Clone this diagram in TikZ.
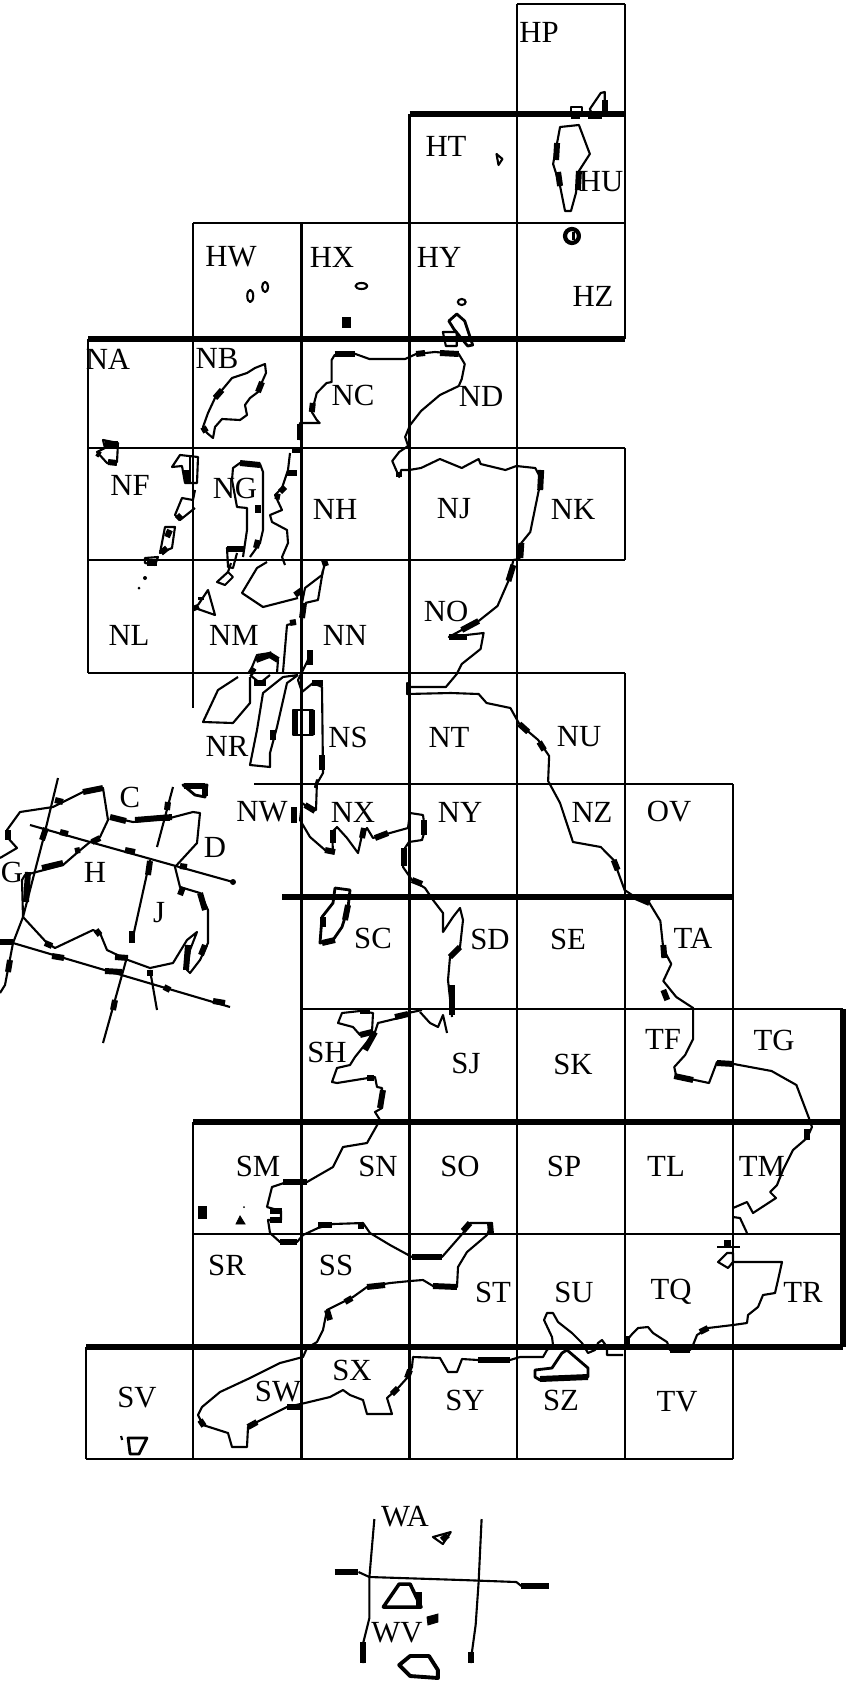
\documentclass[tikz,border=0pt]{standalone}
\usepackage{fontspec}
\setmainfont{Liberation Serif}
\usepackage{tikz}

\begin{document}
\begin{tikzpicture}[
    x=0.02cm, y=-0.02cm,
    gridline/.style={draw=black, line width=1.2pt},
    heavyline/.style={draw=black, line width=3pt},
    coast/.style={draw=black, line width=1.2pt, line join=round},
    blob/.style={draw=black, line width=3.4pt},
    solid island/.style={fill=black, draw=black, line width=0.5pt},
    sheet/.style={font=\fontsize{17.5}{17.5}\selectfont, inner sep=0pt, text=black}
]
    \useasboundingbox (0,0) rectangle (852,1686);

    % Grid verticals
    \draw[gridline] (517,4) -- (517,1459);
    \draw[gridline] (625,4) -- (625,339);
    \draw[gridline] (409.5,114) -- (409.5,1459);
    \draw[gridline] (193,223) -- (193,708);
    \draw[gridline] (301.5,223) -- (301.5,1459);
    \draw[gridline] (88,339) -- (88,673);
    \draw[gridline] (625,448) -- (625,560);
    \draw[gridline] (625,673) -- (625,1459);
    \draw[gridline] (733,784) -- (733,1459);
    \draw[gridline] (193,1122) -- (193,1459);
    \draw[gridline] (86,1347) -- (86,1459);

    % Grid horizontals
    \draw[gridline] (517,4) -- (625,4);
    \draw[gridline] (193,223) -- (625,223);
    \draw[gridline] (88,448) -- (625,448);
    \draw[gridline] (88,560) -- (625,560);
    \draw[gridline] (88,673) -- (625,673);
    \draw[gridline] (254,784) -- (733,784);
    \draw[gridline] (301.5,1009) -- (843,1009);
    \draw[gridline] (193,1234) -- (843,1234);
    \draw[gridline] (86,1459) -- (733,1459);

    % Heavy lines
    \draw[heavyline] (409.5,114) -- (625,114);
    \draw[heavyline] (88,339) -- (625,339);
    \draw[heavyline] (282,897) -- (733,897);
    \draw[heavyline] (193,1122) -- (843,1122);
    \draw[heavyline] (86,1347) -- (843,1347);
    \draw[heavyline] (843,1009) -- (843,1347);

    \begin{scope}[xscale=0.993]
    % East coast, north of Scotland down to Suffolk
    \draw[coast] (302,440) -- (302,423) -- (322,423) -- (319,420) -- (314,412) -- (319,393) -- (329,383) -- (334,382) -- (334,360) -- (337,355) -- (358,354) -- (372,359) -- (408,359) -- (419,354) -- (438,352) -- (462,354) -- (468,364) -- (465,379) -- (462,386) -- (443,395) -- (424,411) -- (413,425) -- (408,437) -- (411,446) -- (402,452) -- (395,461) -- (402,477) -- (404,470) -- (412,470) -- (424,468) -- (443,459) -- (465,468) -- (482,459) -- (484,464) -- (509,470) -- (520,466) -- (539,468) -- (545,479) -- (542,493) -- (534,532) -- (525,543) -- (523,559) -- (517,560) -- (512,581) -- (501,606) -- (482,621) -- (465,630) -- (452,637) -- (487,633) -- (484,649) -- (465,664) -- (460,674) -- (449,687) -- (413,687) -- (410,683) -- (410,694) -- (454,693) -- (482,694) -- (490,703) -- (514,708) -- (523,724) -- (542,740) -- (553,756) -- (552,781) -- (564,803) -- (577,842) -- (605,847) -- (618,860) -- (629,890) -- (638,896) -- (654,903) -- (665,921) -- (668,949) -- (676,964) -- (668,981) -- (681,997) -- (698,1008) -- (698,1039) -- (690,1055) -- (679,1067) -- (681,1076) -- (714,1083) -- (722,1062) -- (739,1064) -- (777,1071) -- (802,1085) -- (815,1119);
    \draw[blob] (302,424) -- (302,440);
    \draw[blob] (314,412) -- (315,403);
    \draw[blob] (337,354) -- (358,354);
    \draw[blob] (419,354) -- (428,353);
    \draw[blob] (443,353) -- (462,354);
    \draw[blob] (402,472) -- (402,477);
    \draw[blob] (545,470) -- (544,490);
    \draw[blob] (525,543) -- (524,558);
    \draw[blob] (517,565) -- (512,581);
    \draw[blob] (465,630) -- (482,621);
    \draw[blob] (452,637) -- (470,637);
    \draw[blob] (523,724) -- (532,732);
    \draw[blob] (543,742) -- (548,750);
    \draw[blob] (618,860) -- (622,870);
    \draw[blob] (654,903) -- (640,897);
    \draw[blob] (668,945) -- (669,958);
    \draw[blob] (668,990) -- (672,1000);
    \draw[blob] (679,1076) -- (698,1080);
    \draw[blob] (722,1063) -- (739,1064);

    % Shetland
    \draw[coast] (564,127) -- (583,125) -- (594,154) -- (583,171) -- (580,193) -- (575,211) -- (569,211) -- (564,186) -- (557,164) -- (561,143) -- cycle;
    \draw[coast] (594,109) -- (605,93) -- (609,92) -- (609,114) -- (597,116) -- cycle;
    \draw[coast] (575,107) -- (586,107) -- (586,116) -- (575,116) -- cycle;
    \draw[coast] (500,154) -- (506,159) -- (502,165) -- cycle;
    \draw[coast, line width=2.4pt] (576,236) circle (7);
    \fill (576,232) rectangle (579,240);
    \draw[blob] (561,143) -- (560,160);
    \draw[blob] (562,172) -- (564,186);
    \draw[blob] (583,171) -- (582,190);
    \draw[blob] (609,100) -- (609,112);
    \draw[blob] (592,116) -- (606,116);
    \draw[blob] (575,116) -- (584,116);

    % Small islands north
    \draw[coast] (252,296) ellipse (3 and 6);
    \draw[coast] (267,287) ellipse (3 and 5);
    \draw[coast] (364,286) ellipse (6 and 3);
    \draw[coast] (465,302) ellipse (4 and 3);
    \fill[solid island] (345,317) rectangle (353,327);

    % Orkney
    \draw[coast, line width=1.6pt] (452,321) -- (460,314) -- (468,321) -- (476,345) -- (471,346) -- (457,329) -- cycle;
    \draw[coast] (446,332) -- (460,332) -- (460,346) -- (449,346) -- cycle;

    % Scilly
    \draw[coast, line width=1.6pt] (129,1438) -- (148,1438) -- (140,1454) -- (131,1454) -- cycle;
    \draw[coast] (122,1436) -- (123,1440);

    % Channel Islands inset
    \draw[coast] (377,1519) -- (372,1577) -- (372,1618) -- (366,1642) -- (366,1663);
    \draw[coast] (485,1519) -- (482,1582) -- (479,1625) -- (475,1654) -- (474,1663);
    \draw[coast] (361,1572) -- (372,1577) -- (465,1580) -- (520,1582) -- (525,1586);
    \draw[blob] (337,1572) -- (361,1572);
    \draw[blob] (525,1586) -- (553,1586);
    \draw[blob] (366,1642) -- (366,1663);
    \draw[blob] (474,1652) -- (474,1663);
    \draw[coast] (436,1537) -- (454,1532) -- (446,1544) -- cycle;
    \draw[blob] (445,1540) -- (451,1535);
    \draw[coast, line width=2pt] (386,1607) -- (402,1584) -- (413,1584) -- (424,1607) -- cycle;
    \draw[blob] (422,1592) -- (422,1606);
    \fill[solid island] (430,1617) -- (441,1614) -- (441,1622) -- (431,1625) -- cycle;
    \draw[coast, line width=2.2pt] (402,1665) -- (413,1656) -- (432,1656) -- (441,1670) -- (441,1678) -- (413,1676) -- cycle;
    \end{scope}

    % Suffolk, Essex and Kent
    \draw[coast] (809,1119) -- (812,1127) -- (807,1138) -- (793,1150) -- (783,1170) -- (777,1185) -- (770,1192) -- (776,1198) -- (753,1213) -- (747,1202) -- (733,1208);
    \draw[coast] (733,1217) -- (740,1218) -- (747,1233);
    \draw[coast] (733,1262) -- (782,1262) -- (778,1280) -- (775,1293) -- (763,1295) -- (758,1307) -- (748,1315) -- (747,1323) -- (733,1325) -- (708,1328) -- (697,1335) -- (693,1345) -- (690,1350) -- (670,1350) -- (667,1342) -- (653,1333) -- (648,1327) -- (638,1328) -- (633,1333) -- (627,1340);

    % South coast
    \draw[coast] (623,1355) -- (607,1355) -- (607,1347) -- (602,1340) -- (598,1343) -- (595,1350) -- (588,1353) -- (582,1343) -- (572,1333) -- (558,1322) -- (553,1313) -- (547,1313) -- (544,1320) -- (552,1337) -- (553,1345) -- (547,1350) -- (543,1357) -- (520,1357) -- (510,1360) -- (478,1360) -- (462,1359) -- (457,1372) -- (448,1372) -- (440,1358) -- (413,1357) -- (412,1367) -- (407,1378) -- (398,1388) -- (387,1398) -- (392,1414) -- (367,1414) -- (363,1400) -- (350,1395) -- (343,1390) -- (330,1397) -- (305,1403) -- (287,1407) -- (257,1422) -- (248,1427) -- (247,1447) -- (232,1447) -- (228,1433) -- (203,1425) -- (198,1415) -- (202,1407) -- (220,1392) -- (250,1378) -- (280,1363) -- (303,1357) -- (307,1348) -- (317,1342) -- (323,1330) -- (327,1310) -- (353,1297) -- (367,1287) -- (390,1283) -- (410,1281) -- (423,1280) -- (433,1286) -- (457,1287) -- (458,1267) -- (467,1252) -- (487,1235) -- (492,1223) -- (470,1223) -- (463,1233) -- (442,1257) -- (412,1257) -- (390,1245) -- (370,1233) -- (363,1223) -- (333,1224) -- (318,1228) -- (303,1235) -- (297,1242) -- (280,1242) -- (270,1233) -- (268,1220) -- (281,1220) -- (281,1211) -- (267,1207) -- (272,1187) -- (287,1182) -- (307,1182) -- (333,1167) -- (343,1147) -- (367,1143) -- (380,1120) -- (375,1112) -- (382,1108) -- (382,1088) -- (377,1087) -- (375,1077) -- (368,1078) -- (337,1083) -- (332,1082) -- (337,1068) -- (350,1065) -- (355,1057) -- (375,1032) -- (378,1023) -- (403,1017) -- (408,1013) -- (422,1010);

    % Dee and the coast north of it
    \draw[coast] (420,1012) -- (430,1023) -- (438,1027) -- (443,1015) -- (447,1033);
    \draw[coast] (452,1017) -- (448,980) -- (450,957) -- (460,947) -- (463,920) -- (460,908) -- (453,917) -- (443,932) -- (443,913) -- (433,900) -- (425,888) -- (412,880) -- (403,867) -- (405,848) -- (409,842) -- (422,840) -- (425,830) -- (423,815) -- (410,813) -- (408,828) -- (390,833) -- (373,838) -- (367,828) -- (362,835) -- (358,853) -- (347,838) -- (337,827) -- (332,832) -- (333,852) -- (325,850) -- (310,837) -- (300,820) -- (302,803) -- (312,810) -- (316,810) -- (317,780) -- (315,787) -- (323,773) -- (322,687) -- (313,683) -- (302,692) -- (298,680) -- (307,662) -- (310,655);

    % Anglesey
    \draw[coast] (342,1013) -- (338,1023) -- (353,1027) -- (360,1035) -- (372,1032) -- (373,1013) -- (360,1011) -- cycle;

    % Kintyre, Islay, Mull
    \draw[coast] (298,675) -- (287,683) -- (277,727) -- (270,753) -- (270,767) -- (250,765) -- (257,730) -- (263,693) -- (283,677) -- (298,675);
    \draw[coast] (250,677) -- (250,703) -- (233,723) -- (203,722) -- (218,690) -- (238,677);
    \draw[coast] (250,672) -- (257,655) -- (270,653) -- (278,660) -- (277,673);
    \draw[coast] (250,675) -- (260,683) -- (270,675);
    \draw[coast] (283,672) -- (287,625) -- (295,623);

    % West Highlands
    \draw[coast] (298,598) -- (263,607) -- (242,593) -- (257,568) -- (267,562);
    \draw[coast] (302,620) -- (302,603) -- (305,588) -- (322,575) -- (325,563);
    \draw[coast] (305,603) -- (318,600) -- (323,570);
    \draw[coast] (217,582) -- (228,572) -- (233,577) -- (225,585) -- cycle;
    \draw[coast] (231,563) -- (228,572);
    \draw[coast] (198,605) -- (208,590) -- (215,615) -- (195,608);
    \draw[coast] (290,453) -- (288,470) -- (282,488) -- (275,495) -- (282,510) -- (270,515) -- (272,522) -- (287,530) -- (288,543) -- (282,557) -- (285,565);

    % Outer Hebrides and Lewis
    \draw[coast] (265,364) -- (266,373) -- (262,382) -- (258,392) -- (250,398) -- (245,405) -- (247,415) -- (240,420) -- (222,419) -- (215,427) -- (213,438) -- (207,433) -- (203,427) -- (208,413) -- (215,398) -- (222,390) -- (232,378) -- (247,373) -- (255,368) -- cycle;
    \draw[coast] (103,440) -- (105,448) -- (97,452) -- (107,463) -- (117,462) -- (118,443) -- cycle;
    \draw[coast] (172,467) -- (182,466) -- (185,483) -- (197,483) -- (198,457) -- (180,455) -- cycle;
    \draw[coast] (190,457) -- (190,483);
    \draw[coast] (195,490) -- (193,500) -- (182,498) -- (175,515) -- (180,520) -- (195,508);
    \draw[coast] (165,527) -- (175,527) -- (172,548) -- (160,553) -- cycle;
    \draw[coast] (145,558) -- (158,557) -- (155,565) -- (145,563) -- cycle;
    \fill (145,578) circle (2);
    \fill (139,588) circle (1.5);

    % Skye
    \draw[coast] (243,557) -- (247,530) -- (247,508) -- (237,507) -- (232,480) -- (233,468) -- (240,463) -- (260,464) -- (263,472) -- (263,507) -- (263,530) -- (260,543) -- (250,557);
    \draw[coast] (237,553) -- (233,568) -- (228,567) -- (227,548) -- (245,548);

    % Isle of Man
    \draw[coast, line width=1.6pt] (335,888) -- (350,890) -- (348,908) -- (342,927) -- (333,940) -- (320,943) -- (322,917) -- (333,903) -- cycle;

    % Arran
    \draw[coast] (293,710) rectangle (313,735);

    % Rathlin
    \draw[coast, line width=1.6pt] (183,785) -- (207,785) -- (205,797) -- (195,795) -- cycle;

    % Ireland grid
    \draw[coast] (58,778) -- (43,840) -- (23,917) -- (13,943) -- (5,985) -- (0,993);
    \draw[coast] (173,787) -- (157,847);
    \draw[coast] (150,860) -- (133,937);
    \draw[coast] (127,957) -- (103,1043);
    \draw[coast] (30,825) -- (90,842) -- (233,882);
    \draw[coast] (0,942) -- (13,943) -- (230,1007);

    % Ireland coast
    \draw[coast] (0,858) -- (17,848) -- (8,838) -- (7,830) -- (20,812) -- (53,807) -- (83,792) -- (103,788) -- (108,820) -- (100,837) -- (90,842) -- (78,852) -- (63,865) -- (25,875) -- (22,880) -- (23,917) -- (47,943) -- (55,948) -- (93,930) -- (100,933) -- (107,950) -- (128,960) -- (150,968) -- (173,963) -- (187,940) -- (197,932) -- (190,950) -- (187,970) -- (190,973) -- (200,960) -- (208,943) -- (208,910) -- (200,893) -- (180,887) -- (175,867) -- (197,843) -- (200,813) -- (193,812) -- (170,818) -- (133,822) -- (110,817);
    \draw[coast] (150,970) -- (157,1010);

    % Small shapes south
    \fill[solid island] (198,1206) rectangle (206,1218);
    \fill[solid island] (236,1224) -- (240,1216) -- (245,1224) -- cycle;
    \fill (244,1207) circle (1);
    \draw[coast] (717,1247) -- (740,1247);
    \fill[solid island] (724,1240) rectangle (730,1247);
    \draw[coast] (718,1262) -- (727,1253) -- (733,1253) -- (733,1262) -- (728,1268) -- cycle;

    % Isle of Wight
    \draw[coast, line width=1.6pt] (535,1370) -- (552,1368) -- (562,1353) -- (567,1350) -- (588,1368) -- (588,1377) -- (540,1380) -- (535,1377) -- cycle;

    % Coast thickening
    \draw[blob] (222,390) -- (215,398);
    \draw[blob] (258,392) -- (262,382);
    \draw[blob] (203,427) -- (206,432);
    \draw[blob] (807,1129) -- (807,1140);
    \draw[blob] (690,1350) -- (670,1350);
    \draw[blob] (627,1336) -- (627,1346);
    \draw[blob] (700,1332) -- (708,1328);
    \draw[blob] (478,1360) -- (510,1360);
    \draw[blob] (540,1379) -- (588,1377);
    \draw[blob] (248,1427) -- (257,1422);
    \draw[blob] (287,1407) -- (303,1407);
    \draw[blob] (200,1420) -- (204,1426);
    \draw[blob] (398,1388) -- (392,1394);
    \draw[blob] (407,1378) -- (410,1370);
    \draw[blob] (457,1287) -- (433,1286);
    \draw[blob] (412,1257) -- (442,1257);
    \draw[blob] (367,1287) -- (385,1285);
    \draw[blob] (327,1310) -- (330,1320);
    \draw[blob] (345,1302) -- (352,1298);
    \draw[blob] (297,1242) -- (280,1242);
    \draw[blob] (283,1182) -- (307,1182);
    \draw[blob] (318,1225) -- (332,1225);
    \draw[blob] (358,1226) -- (364,1226);
    \draw[blob] (470,1223) -- (463,1231);
    \draw[blob] (490,1223) -- (491,1234);
    \draw[blob] (282,1211) -- (270,1211);
    \draw[blob] (282,1220) -- (270,1220);
    \draw[blob] (375,1032) -- (365,1050);
    \draw[blob] (372,1032) -- (360,1035);
    \draw[blob] (395,1017) -- (408,1014);
    \draw[blob] (360,1011) -- (370,1011);
    \draw[blob] (452,1015) -- (452,985);
    \draw[blob] (367,1078) -- (374,1078);
    \draw[blob] (383,1090) -- (380,1108);
    \draw[blob] (460,947) -- (450,957);
    \draw[blob] (333,843) -- (333,830);
    \draw[blob] (325,850) -- (335,852);
    \draw[blob] (362,838) -- (364,828);
    \draw[blob] (388,833) -- (375,838);
    \draw[blob] (412,880) -- (422,884);
    \draw[blob] (404,848) -- (404,866);
    \draw[blob] (424,835) -- (424,820);
    \draw[blob] (322,943) -- (335,940);
    \draw[blob] (345,920) -- (348,905);
    \draw[blob] (323,927) -- (323,917);
    \draw[blob] (294,807) -- (294,823);
    \draw[blob] (315,811) -- (305,805);
    \draw[blob] (295,710) -- (295,735);
    \draw[blob] (312,710) -- (312,735);
    \draw[blob] (323,683) -- (312,683);
    \draw[blob] (310,650) -- (310,665);
    \draw[blob] (322,770) -- (322,755);
    \draw[blob] (256,660) -- (272,654);
    \draw[blob] (254,683) -- (266,683);
    \draw[blob] (254,668) -- (250,674);
    \draw[blob] (296,622) -- (290,623);
    \draw[blob] (278,660) -- (270,655);
    \draw[blob] (273,740) -- (273,730);
    \draw[blob] (295,595) -- (302,590);
    \draw[blob] (304,603) -- (302,618);
    \draw[blob] (324,560) -- (326,566);
    \draw[blob] (201,600) -- (201,597);
    \draw[blob] (195,605) -- (197,610);
    \draw[blob] (118,444) -- (105,444);
    \draw[blob] (97,453) -- (100,455);
    \draw[blob] (108,462) -- (117,463);
    \draw[blob] (187,470) -- (187,482);
    \draw[blob] (177,515) -- (181,519);
    \draw[blob] (170,530) -- (167,537);
    \draw[blob] (167,548) -- (161,553);
    \draw[blob] (147,563) -- (157,563);
    \draw[blob] (240,463) -- (260,465);
    \draw[blob] (258,505) -- (258,513);
    \draw[blob] (256,548) -- (258,540);
    \draw[blob] (227,549) -- (244,549);
    \draw[blob] (292,450) -- (302,450);
    \draw[blob] (287,473) -- (297,473);
    \draw[blob] (285,487) -- (280,492);
    \draw[blob] (275,496) -- (280,497);

    % Ireland thickening
    \draw[blob] (83,792) -- (103,788);
    \draw[blob] (110,817) -- (126,821);
    \draw[blob] (135,820) -- (172,817);
    \draw[blob] (8,830) -- (8,840);
    \draw[blob] (55,800) -- (63,802);
    \draw[blob] (42,840) -- (46,828);
    \draw[blob] (60,832) -- (68,834);
    \draw[blob] (42,868) -- (63,863);
    \draw[blob] (75,851) -- (80,850);
    \draw[blob] (92,842) -- (100,838);
    \draw[blob] (125,850) -- (135,852);
    \draw[blob] (150,861) -- (148,875);
    \draw[blob] (132,931) -- (132,943);
    \draw[blob] (28,872) -- (26,902);
    \draw[blob] (45,943) -- (52,946);
    \draw[blob] (0,942) -- (13,942);
    \draw[blob] (10,960) -- (8,972);
    \draw[blob] (52,956) -- (64,958);
    \draw[blob] (96,930) -- (100,935);
    \draw[blob] (105,971) -- (122,972);
    \draw[blob] (115,957) -- (128,958);
    \draw[blob] (115,1000) -- (113,1010);
    \draw[blob] (150,970) -- (150,976);
    \draw[blob] (164,987) -- (170,990);
    \draw[blob] (213,1001) -- (225,1003);
    \draw[blob] (180,895) -- (183,887);
    \draw[blob] (200,893) -- (205,910);
    \draw[blob] (205,945) -- (201,955);
    \draw[blob] (188,945) -- (186,970);
    \draw[blob] (170,818) -- (160,818);
    \draw[blob] (168,802) -- (167,810);
    \draw[blob] (184,786) -- (205,786);
    \draw[blob] (205,786) -- (205,796);
    \draw[blob] (180,866) -- (187,867);
    \fill (233,882) circle (3);

    % Irish letters
    \node[sheet] (c) at (130,797) {C};
    \node[sheet] (d) at (215,847) {D};
    \node[sheet] (g) at (12,872) {G};
    \node[sheet] (h) at (95,872) {H};
    \node[sheet] (j) at (159,913) {J};

    % Sheet letters
    \node[sheet] (hp) at (539,32) {HP};
    \node[sheet] (ht) at (446,146) {HT};
    \node[sheet] (hu) at (601,182) {HU};
    \node[sheet] (hw) at (231,257) {HW};
    \node[sheet] (hx) at (332,257) {HX};
    \node[sheet] (hy) at (439,257) {HY};
    \node[sheet] (hz) at (593,296) {HZ};
    \node[sheet] (na) at (108,359) {NA};
    \node[sheet] (nb) at (217,358) {NB};
    \node[sheet] (nc) at (353,395) {NC};
    \node[sheet] (nd) at (481,396) {ND};
    \node[sheet] (nf) at (130,485) {NF};
    \node[sheet] (ng) at (235,488) {NG};
    \node[sheet] (nh) at (335,509) {NH};
    \node[sheet] (nj) at (454,509) {NJ};
    \node[sheet] (nk) at (573,509) {NK};
    \node[sheet] (nl) at (129,635) {NL};
    \node[sheet] (nm) at (234,635) {NM};
    \node[sheet] (nn) at (345,635) {NN};
    \node[sheet] (no) at (446,611) {NO};
    \node[sheet] (nr) at (227,746) {NR};
    \node[sheet] (ns) at (348,737) {NS};
    \node[sheet] (nt) at (449,737) {NT};
    \node[sheet] (nu) at (579,737) {NU};
    \node[sheet] (nw) at (262,812) {NW};
    \node[sheet] (nx) at (353,812) {NX};
    \node[sheet] (ny) at (460,812) {NY};
    \node[sheet] (nz) at (592,812) {NZ};
    \node[sheet] (ov) at (669,812) {OV};
    \node[sheet] (sc) at (373,938) {SC};
    \node[sheet] (sd) at (490,939) {SD};
    \node[sheet] (se) at (568,939) {SE};
    \node[sheet] (ta) at (693,938) {TA};
    \node[sheet] (sh) at (327,1052) {SH};
    \node[sheet] (sj) at (466,1063) {SJ};
    \node[sheet] (sk) at (573,1064) {SK};
    \node[sheet] (tf) at (663,1039) {TF};
    \node[sheet] (tg) at (774,1040) {TG};
    \node[sheet] (sm) at (258,1166) {SM};
    \node[sheet] (sn) at (378,1166) {SN};
    \node[sheet] (so) at (460,1166) {SO};
    \node[sheet] (sp) at (564,1166) {SP};
    \node[sheet] (tl) at (666,1166) {TL};
    \node[sheet] (tm) at (762,1166) {TM};
    \node[sheet] (sr) at (227,1265) {SR};
    \node[sheet] (ss) at (336,1265) {SS};
    \node[sheet] (st) at (493,1292) {ST};
    \node[sheet] (su) at (574,1292) {SU};
    \node[sheet] (tq) at (671,1292) {TQ};
    \node[sheet] (tr) at (803,1292) {TR};
    \node[sheet] (sv) at (137,1398) {SV};
    \node[sheet] (sw) at (278,1392) {SW};
    \node[sheet] (sx) at (352,1370) {SX};
    \node[sheet] (sy) at (465,1400) {SY};
    \node[sheet] (sz) at (561,1400) {SZ};
    \node[sheet] (tv) at (677,1402) {TV};
    \node[sheet] (wa) at (405,1517) {WA};
    \node[sheet] (wv) at (397,1633) {WV};
\end{tikzpicture}
\end{document}
